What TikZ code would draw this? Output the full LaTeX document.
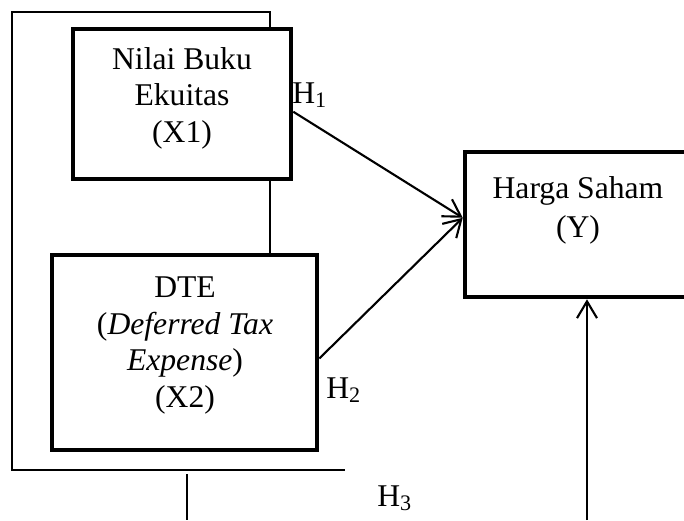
\documentclass[tikz,border=0pt]{standalone}
\usepackage{fontspec}
\setmainfont{Liberation Serif}
\usetikzlibrary{calc,arrows.meta}
\begin{document}
\begin{tikzpicture}[x=0.025cm, y=-0.025cm,
	box/.style={draw, line width=3.2pt, minimum width=#1},
	txt/.style={align=center, inner sep=0pt, font=\fontsize{22.5}{26}\selectfont},
	hyp/.style={anchor=base west, inner sep=0pt, font=\fontsize{22.5}{26}\selectfont},
	link/.style={line width=1.5pt, -{Straight Barb[length=0.42cm, width=0.5cm, line width=1.5pt]}}]
	\useasboundingbox (0,0) rectangle (684,520);
	\clip (0,0) rectangle (684,520);
	% boxes
	\node[box=5.45cm, minimum height=3.75cm] (nbe) at (182,104) {};
	\node[box=6.625cm, minimum height=4.875cm] (dte) at (184.5,352.5) {};
	\node[box=5.65cm, minimum height=3.625cm] (hs) at (578,224.5) {};
	\node[txt] (nbetxt) at (182,98) {Nilai Buku\\Ekuitas\\(X1)};
	\node[txt] (dtetxt) at (185,345.5) {DTE\\(\textit{Deferred Tax}\\\textit{Expense})\\(X2)};
	\node[txt, font=\fontsize{22.5}{27.5}\selectfont] (hstxt) at (578,210.5) {Harga Saham\\(Y)};
	% hypotheses
	\node[hyp] (h1) at (292,103) {H\textsubscript{1}};
	\node[hyp] (h2) at (326,398) {H\textsubscript{2}};
	\node[hyp] (h3) at (377,506) {H\textsubscript{3}};
	% bracket round X1 and X2
	\coordinate (tl) at (12,12);
	\coordinate (tr) at (270,12);
	\coordinate (br) at (345,470);
	\coordinate (stub) at (187,474);
	\coordinate (stubend) at (187,520);
	\coordinate (up) at (587,520);
	\draw[line width=1pt] (tr |- nbe.north) -- (tr) -- (tl) -- (tl |- br) -- (br);
	\draw[line width=1pt] (tr |- nbe.south) -- (tr |- dte.north);
	\draw[line width=1pt] (stub) -- (stubend);
	% arrows
	\draw[link] ($(nbe.north east)!0.55!(nbe.south east)$) -- ($(hs.north west)!0.455!(hs.south west)$);
	\draw[link] ($(dte.north east)!0.53!(dte.south east)$) -- ($(hs.north west)!0.455!(hs.south west)$);
	\draw[link] (up) -- (up |- hs.south);
\end{tikzpicture}
\end{document}
